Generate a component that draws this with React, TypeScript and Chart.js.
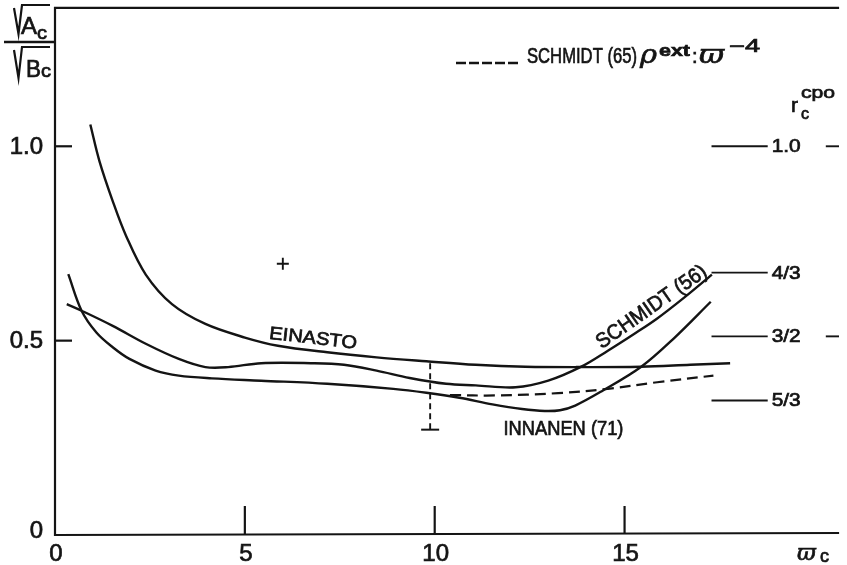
import React, { useEffect, useRef } from "react";
import { Chart, registerables } from "chart.js";
Chart.register(...registerables);

// ---- data ----
const einastoX = [0.93, 1.17, 1.52, 1.87, 2.39, 3.08, 3.96, 5.0, 5.87, 7.17, 8.47, 9.78, 11.08, 12.39, 13.86, 15.43, 16.73, 17.78];
const einastoY = [1.056, 0.962, 0.859, 0.77, 0.67, 0.594, 0.543, 0.508, 0.487, 0.47, 0.457, 0.447, 0.438, 0.433, 0.432, 0.433, 0.438, 0.442];

const schmidt56X = [0.31, 0.7, 1.52, 2.39, 3.26, 3.96, 4.56, 5.43, 6.74, 7.61, 8.47, 9.34, 10.3, 11.08, 12.13, 12.99, 13.86, 14.56, 15.25, 15.86, 16.56, 17.3];
const schmidt56Y = [0.594, 0.577, 0.538, 0.492, 0.453, 0.432, 0.432, 0.442, 0.442, 0.438, 0.423, 0.404, 0.389, 0.385, 0.38, 0.397, 0.433, 0.474, 0.517, 0.557, 0.61, 0.67];

const innanenX = [0.35, 0.7, 1.09, 1.52, 1.96, 2.65, 3.26, 4.13, 5.43, 7.17, 8.91, 9.78, 10.65, 11.52, 12.3, 12.9, 13.3, 13.7, 14.4, 15.43, 16.3, 17.27];
const innanenY = [0.671, 0.577, 0.521, 0.483, 0.453, 0.423, 0.41, 0.403, 0.397, 0.389, 0.376, 0.366, 0.353, 0.336, 0.324, 0.319, 0.321, 0.333, 0.37, 0.432, 0.506, 0.6];

const schmidt65X = [10.4, 11.6, 13.25, 14.56, 15.86, 17.34];
const schmidt65Y = [0.36, 0.359, 0.365, 0.376, 0.393, 0.41];

const errX = 9.88;
const errTop = 0.442;
const errBottom = 0.271;

const plusX = [6.0];
const plusY = [0.698];

const rcpoValues = [1.0, 0.675, 0.511, 0.346];
const rcpoLabels = ["1.0", "4/3", "3/2", "5/3"];
const rcpoExtra = [true, false, true, false];

const xTicks = [0, 5, 10, 15];
const xTickLabels = ["0", "5", "10", "15"];
const yTicks = [0, 0.5, 1.0];
const yTickLabels = ["0", "0.5", "1.0"];

const X_MAX = 20.65;
const Y_MAX = 1.356;

const INK = "#141414";
const SANS = '"Liberation Sans", Arial, sans-serif';
const SERIF = '"DejaVu Serif", serif';

const pts = (xs: number[], ys: number[]) => xs.map((x, i) => ({ x, y: ys[i] }));

function drawText(
  ctx: CanvasRenderingContext2D,
  s: string,
  x: number,
  y: number,
  font: string,
  opts: { width?: number; rot?: number; align?: CanvasTextAlign; baseline?: CanvasTextBaseline } = {}
) {
  ctx.save();
  ctx.font = font;
  const w = ctx.measureText(s).width;
  const sx = opts.width ? opts.width / w : 1;
  ctx.translate(x, y);
  if (opts.rot) ctx.rotate(opts.rot);
  ctx.scale(sx, 1);
  ctx.textAlign = opts.align || "left";
  ctx.textBaseline = opts.baseline || "alphabetic";
  ctx.fillStyle = INK;
  ctx.strokeStyle = INK;
  ctx.lineWidth = 0.7;
  ctx.setLineDash([]);
  ctx.fillText(s, 0, 0);
  ctx.strokeText(s, 0, 0);
  ctx.restore();
}

const decorPlugin = {
  id: "decor",
  afterDraw(chart: any) {
    const ctx: CanvasRenderingContext2D = chart.ctx;
    const xs = chart.scales.x;
    const ys = chart.scales.y;
    const a = chart.chartArea;
    ctx.save();
    ctx.strokeStyle = INK;
    ctx.lineWidth = 2.2;
    ctx.lineCap = "butt";
    // frame: left, top, bottom
    ctx.beginPath();
    ctx.moveTo(a.right, a.top);
    ctx.lineTo(a.left, a.top);
    ctx.lineTo(a.left, a.bottom);
    ctx.lineTo(a.right, a.bottom - 2);
    ctx.stroke();

    // inward ticks
    yTicks.forEach((v) => {
      if (v === 0) return;
      const py = ys.getPixelForValue(v);
      ctx.beginPath();
      ctx.moveTo(a.left, py);
      ctx.lineTo(a.left + 17, py);
      ctx.stroke();
    });
    xTicks.forEach((v) => {
      if (v === 0) return;
      const px = xs.getPixelForValue(v);
      ctx.beginPath();
      ctx.moveTo(px, a.bottom - 1);
      ctx.lineTo(px, a.bottom - 29);
      ctx.stroke();
    });

    // tick labels
    yTicks.forEach((v, i) => {
      drawText(ctx, yTickLabels[i], a.left - 12, ys.getPixelForValue(v) + (v === 0 ? -4 : 1), `24px ${SANS}`, {
        align: "right",
        baseline: "middle",
      });
    });
    xTicks.forEach((v, i) => {
      drawText(ctx, xTickLabels[i], xs.getPixelForValue(v) + 1, a.bottom + 19, `24px ${SANS}`, {
        align: "center",
        baseline: "middle",
      });
    });

    // x axis title: varpi_c
    drawText(ctx, "ϖ", 797, 560, `italic 23px ${SERIF}`);
    drawText(ctx, "c", 820, 562, `18px ${SANS}`);

    // y axis title: sqrt(A_c) / sqrt(B_c)
    ctx.lineWidth = 2.2;
    ctx.beginPath();
    ctx.moveTo(14, 8);
    ctx.lineTo(18.5, 34);
    ctx.lineTo(22, 5);
    ctx.lineTo(50, 5);
    ctx.stroke();
    ctx.beginPath();
    ctx.moveTo(14, 50);
    ctx.lineTo(18.5, 78);
    ctx.lineTo(22, 47);
    ctx.lineTo(50, 47);
    ctx.stroke();
    ctx.lineWidth = 2.6;
    ctx.beginPath();
    ctx.moveTo(4, 42);
    ctx.lineTo(54, 42);
    ctx.stroke();
    drawText(ctx, "A", 21, 34, `23px ${SANS}`, { width: 16 });
    drawText(ctx, "c", 37, 39, `18px ${SANS}`, { width: 10 });
    drawText(ctx, "B", 26, 77, `23px ${SANS}`, { width: 15 });
    drawText(ctx, "c", 41, 77, `18px ${SANS}`, { width: 10 });

    // legend: dashed line + SCHMIDT (65) rho^ext : varpi^-4
    ctx.lineWidth = 2.3;
    ctx.setLineDash([10, 3]);
    ctx.beginPath();
    ctx.moveTo(456, 63);
    ctx.lineTo(518, 63);
    ctx.stroke();
    ctx.setLineDash([]);
    drawText(ctx, "SCHMIDT (65)", 527, 63, `22px ${SANS}`, { width: 110 });
    drawText(ctx, "ρ", 640, 63, `italic 26px ${SERIF}`, { width: 17 });
    drawText(ctx, "ext", 659, 56, `bold 17px ${SANS}`, { width: 31 });
    drawText(ctx, ":", 692, 63, `20px ${SANS}`);
    drawText(ctx, "ϖ", 699, 63, `italic 26px ${SERIF}`, { width: 25 });
    drawText(ctx, "−4", 729, 52, `18px ${SANS}`, { width: 31 });

    // r_c^cpo
    drawText(ctx, "r", 791, 112, `21px ${SANS}`);
    drawText(ctx, "c", 801, 119, `16px ${SANS}`);
    drawText(ctx, "cpo", 801, 98, `16px ${SANS}`, { width: 34 });

    // r_c^cpo value labels
    rcpoValues.forEach((v, i) => {
      drawText(ctx, rcpoLabels[i], xs.getPixelForValue(18.77) + 4, ys.getPixelForValue(v) + 1, `18px ${SANS}`, {
        baseline: "middle",
        width: 29,
      });
    });

    // curve labels
    drawText(ctx, "EINASTO", xs.getPixelForValue(5.63), ys.getPixelForValue(0.505), `18px ${SANS}`, {
      width: 88,
      rot: (6.5 * Math.PI) / 180,
    });
    drawText(ctx, "INNANEN (71)", xs.getPixelForValue(11.81), ys.getPixelForValue(0.256), `21px ${SANS}`, {
      width: 120,
    });
    drawText(ctx, "SCHMIDT (56)", xs.getPixelForValue(14.4), ys.getPixelForValue(0.478), `21px ${SANS}`, {
      width: 130,
      rot: (-35 * Math.PI) / 180,
    });

    // error bar cap
    ctx.lineWidth = 2;
    const ex = xs.getPixelForValue(errX);
    const eb = ys.getPixelForValue(errBottom);
    ctx.beginPath();
    ctx.moveTo(ex - 9, eb);
    ctx.lineTo(ex + 9, eb);
    ctx.stroke();
    ctx.restore();
  },
};

const lineDs = (data: { x: number; y: number }[], extra: any = {}) => ({
  data,
  showLine: true,
  borderColor: INK,
  backgroundColor: INK,
  borderWidth: 2.4,
  pointRadius: 0,
  fill: false,
  tension: 0.35,
  ...extra,
});

export default function App() {
  const ref = useRef<HTMLCanvasElement | null>(null);
  useEffect(() => {
    if (!ref.current) return;
    const straight = { borderWidth: 1.9, tension: 0 };
    const rcpoDs = rcpoValues.map((v) =>
      lineDs(
        [
          { x: 17.29, y: v },
          { x: 18.77, y: v },
        ],
        straight
      )
    );
    const rcpoExtraDs = rcpoValues
      .filter((_, i) => rcpoExtra[i])
      .map((v) =>
        lineDs(
          [
            { x: 20.3, y: v },
            { x: 20.65, y: v },
          ],
          straight
        )
      );
    const chart = new Chart(ref.current, {
      type: "scatter",
      data: {
        datasets: [
          lineDs(pts(einastoX, einastoY)),
          lineDs(pts(schmidt56X, schmidt56Y)),
          lineDs(pts(innanenX, innanenY)),
          lineDs(pts(schmidt65X, schmidt65Y), { borderDash: [11, 6], borderWidth: 2.2 }),
          lineDs(
            [
              { x: errX, y: errTop },
              { x: errX, y: errBottom },
            ],
            { borderDash: [6, 4], borderWidth: 1.9, tension: 0 }
          ),
          {
            data: pts(plusX, plusY),
            showLine: false,
            pointStyle: "cross",
            pointRadius: 6,
            borderColor: INK,
            borderWidth: 1.9,
          },
          ...rcpoDs,
          ...rcpoExtraDs,
        ] as any,
      },
      options: {
        animation: false,
        responsive: false,
        layout: { padding: { left: 55, top: 6, right: 0, bottom: 30 } },
        scales: {
          x: { type: "linear", min: 0, max: X_MAX, display: false },
          y: { type: "linear", min: 0, max: Y_MAX, display: false },
        },
        plugins: { legend: { display: false }, tooltip: { enabled: false } },
        events: [],
      },
      plugins: [decorPlugin],
    });
    return () => chart.destroy();
  }, []);
  return (
    <div style={{ position: "fixed", left: 0, top: 0, width: 847, height: 565, background: "#fff" }}>
      <canvas ref={ref} width={847} height={565} style={{ width: 847, height: 565, display: "block" }} />
    </div>
  );
}
